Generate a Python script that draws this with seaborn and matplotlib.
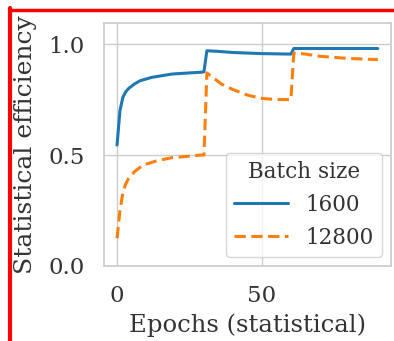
import matplotlib
matplotlib.use("Agg")
import matplotlib.pyplot as plt
import seaborn as sns
import pandas as pd
from matplotlib.lines import Line2D

# Data
epochs_1600 = [0, 1, 2, 3, 4, 6, 8, 12, 19, 25, 29, 30, 31, 35, 40, 50, 59, 60, 61, 70, 80, 90]
eff_1600 = [0.545, 0.70, 0.76, 0.785, 0.80, 0.82, 0.835, 0.85, 0.865, 0.87, 0.873, 0.875,
            0.97, 0.967, 0.962, 0.957, 0.955, 0.955, 0.98, 0.98, 0.98, 0.98]

epochs_12800 = [0, 1, 2, 3, 4, 6, 9, 14, 19, 25, 29, 30, 31, 33, 36, 40, 45, 50, 55, 60, 61, 65, 70, 80, 90]
eff_12800 = [0.125, 0.25, 0.33, 0.37, 0.395, 0.425, 0.455, 0.475, 0.488, 0.495, 0.50, 0.50,
             0.87, 0.85, 0.82, 0.795, 0.77, 0.755, 0.75, 0.75, 0.96, 0.955, 0.945, 0.935, 0.93]

batch_sizes = ["1600", "12800"]

df = pd.concat([
    pd.DataFrame({"Epochs (statistical)": epochs_1600, "Statistical efficiency": eff_1600,
                  "Batch size": batch_sizes[0]}),
    pd.DataFrame({"Epochs (statistical)": epochs_12800, "Statistical efficiency": eff_12800,
                  "Batch size": batch_sizes[1]}),
])

sns.set_theme(style="whitegrid")
plt.rcParams["font.family"] = ["DejaVu Serif"]

fig = plt.figure(figsize=(3.94, 3.41), dpi=100)
ax = fig.add_axes([0.264, 0.22, 0.728, 0.7126])

sns.lineplot(data=df, x="Epochs (statistical)", y="Statistical efficiency",
             hue="Batch size", style="Batch size", hue_order=batch_sizes,
             style_order=batch_sizes, dashes={"1600": "", "12800": (3.7, 1.8)},
             palette=["#1f77b4", "#ff7f0e"], linewidth=2.2, ax=ax)

ax.set_ylim(0, 1.095)
ax.set_xlim(-4.5, 94.5)
ax.set_xticks([0, 50])
ax.set_yticks([0.0, 0.5, 1.0])
ax.set_yticklabels(["0.0", "0.5", "1.0"])
ax.tick_params(labelsize=16.5, colors=".2", pad=8)
ax.set_xlabel("Epochs (statistical)", fontsize=17.5, color=".2", labelpad=4)
ax.set_ylabel("Statistical efficiency", fontsize=18, color=".2", labelpad=8)

leg = ax.legend(title="Batch size", loc="lower right", fontsize=15.5,
                title_fontsize=15.5, handlelength=2.5, borderaxespad=0.4,
                frameon=True)
for t in leg.get_texts():
    t.set_color(".2")
leg.get_title().set_color(".2")

# red annotation border (top and left)
fig.add_artist(Line2D([10 / 394, 1.0], [1 - 9.5 / 341, 1 - 9.5 / 341],
                      transform=fig.transFigure, color="red", lw=2.5))
fig.add_artist(Line2D([10 / 394, 10 / 394], [0.0, 1 - 8 / 341],
                      transform=fig.transFigure, color="red", lw=3))

fig.savefig("out.png", dpi=100)
